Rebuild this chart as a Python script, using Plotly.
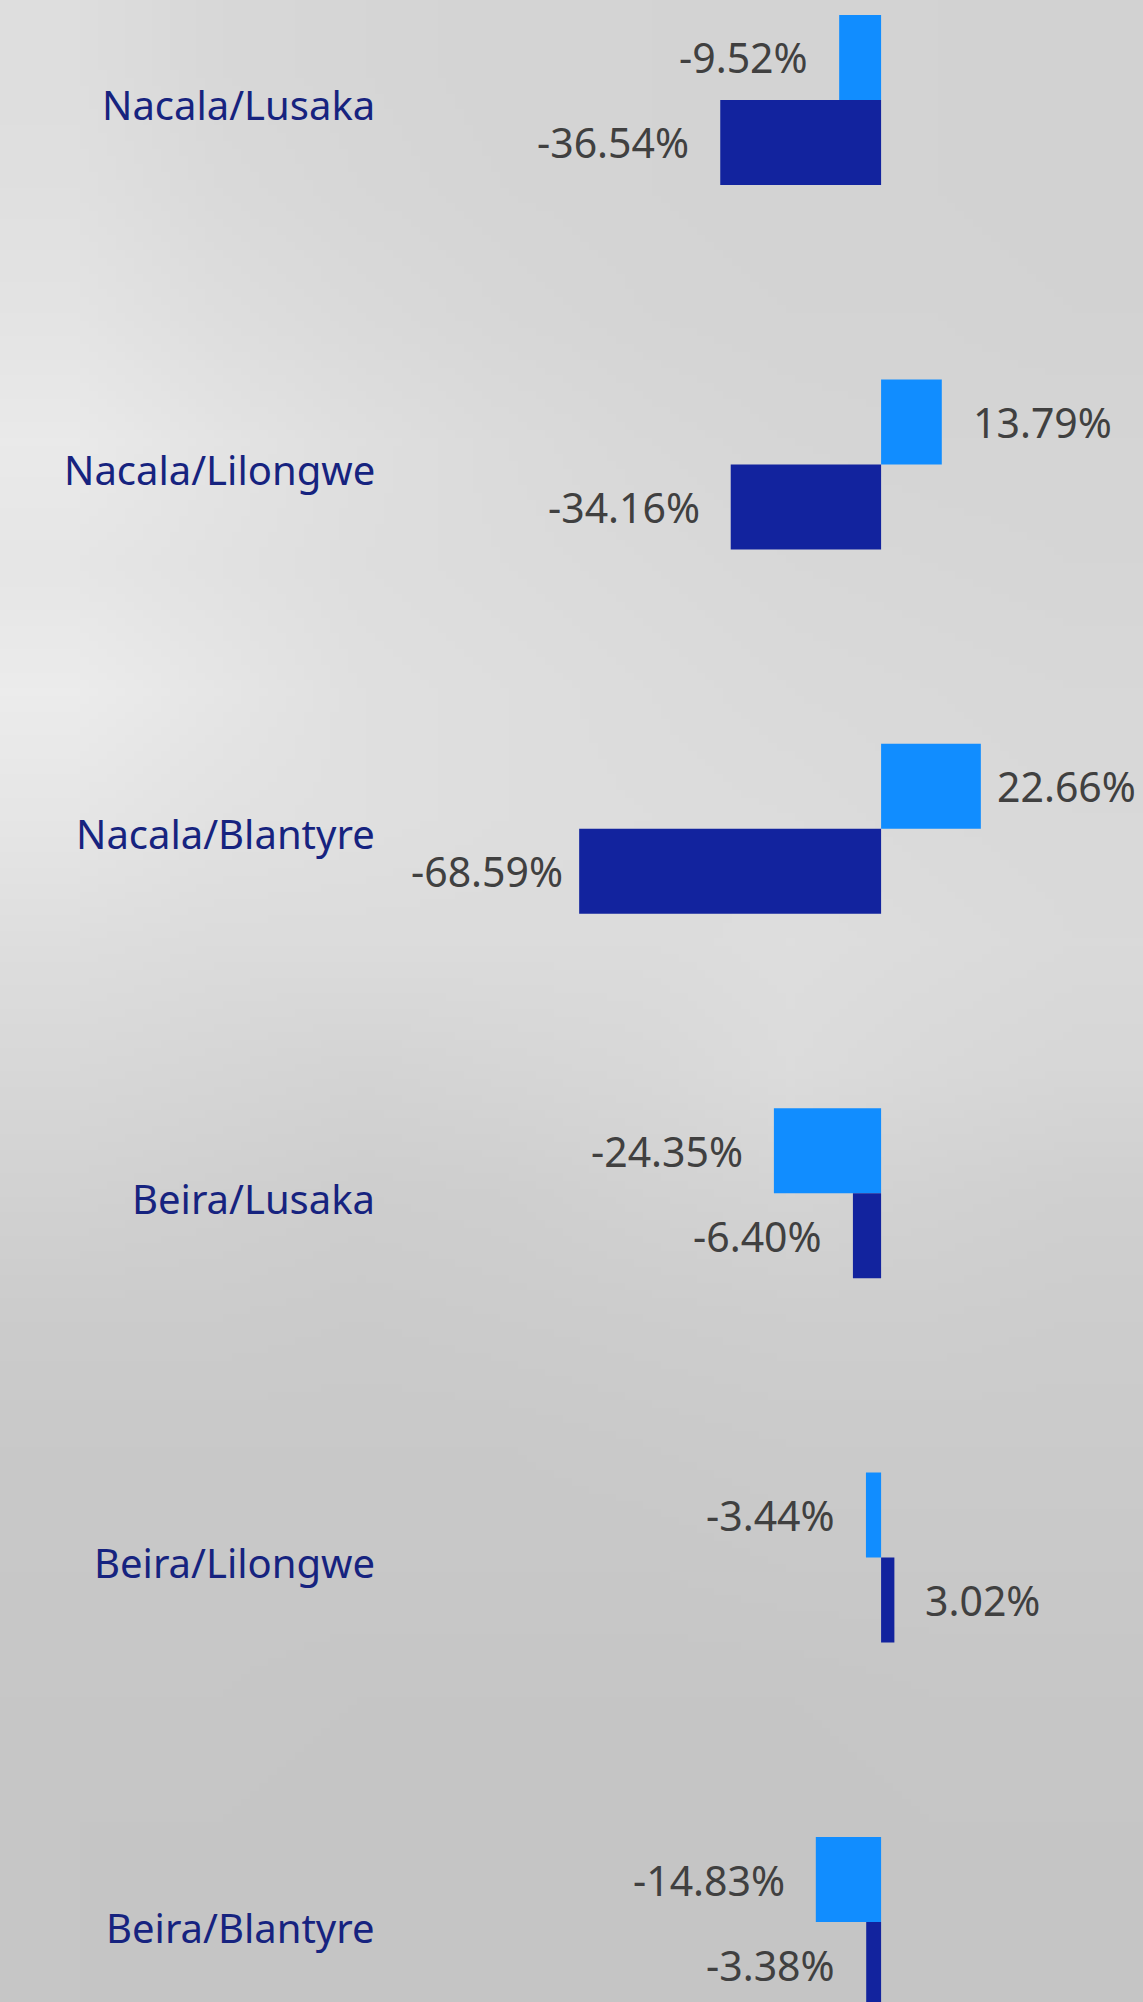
import base64, struct, zlib
import plotly.graph_objects as go

# ---------------- data ----------------
categories = ["Nacala/Lusaka", "Nacala/Lilongwe", "Nacala/Blantyre",
              "Beira/Lusaka", "Beira/Lilongwe", "Beira/Blantyre"]
series1_name = "Series 1"
series2_name = "Series 2"
series1 = [-9.52, 13.79, 22.66, -24.35, -3.44, -14.83]
series2 = [-36.54, -34.16, -68.59, -6.40, 3.02, -3.38]

# ---------------- style ----------------
W, H = 1143, 2002
ML = 385
LIGHT = "#118DFF"
DARK = "#12239E"
CAT_COLOR = "#16237F"
VAL_COLOR = "#404040"
FONT = "Segoe UI, Noto Sans, Open Sans, sans-serif"
BARGAP = 0.5335
X_RANGE = [-112.7, 59.5]
Y_RANGE = [5.2195, -0.2744]

# background photo approximation (gray levels, rows top->bottom)
bg_rows = [
    [0xde, 0xd8, 0xd6, 0xd4, 0xd4, 0xd3, 0xd3, 0xd2],
    [0xe0, 0xda, 0xd7, 0xd5, 0xd4, 0xd3, 0xd3, 0xd2],
    [0xe4, 0xde, 0xda, 0xd7, 0xd5, 0xd4, 0xd4, 0xd3],
    [0xea, 0xe4, 0xdf, 0xdb, 0xd8, 0xd6, 0xd5, 0xd5],
    [0xe6, 0xe2, 0xde, 0xdc, 0xda, 0xd8, 0xd7, 0xd6],
    [0xec, 0xe6, 0xe0, 0xde, 0xdc, 0xda, 0xd9, 0xd8],
    [0xe6, 0xe2, 0xe0, 0xde, 0xdd, 0xdc, 0xda, 0xd9],
    [0xde, 0xdc, 0xdc, 0xdc, 0xdc, 0xde, 0xdc, 0xda],
    [0xd8, 0xd6, 0xd4, 0xd6, 0xd8, 0xdc, 0xd9, 0xd7],
    [0xd2, 0xd0, 0xce, 0xcf, 0xd2, 0xd4, 0xd2, 0xd0],
    [0xcc, 0xcc, 0xcb, 0xcc, 0xcd, 0xce, 0xce, 0xcd],
    [0xc9, 0xc9, 0xc9, 0xc9, 0xca, 0xcb, 0xcb, 0xcb],
    [0xc8, 0xc8, 0xc8, 0xc8, 0xc8, 0xc9, 0xc9, 0xc9],
    [0xc7, 0xc7, 0xc6, 0xc6, 0xc6, 0xc6, 0xc7, 0xc7],
    [0xc6, 0xc6, 0xc5, 0xc5, 0xc5, 0xc5, 0xc6, 0xc6],
    [0xc6, 0xc5, 0xc5, 0xc5, 0xc5, 0xc5, 0xc5, 0xc5],
]


def png_gray(rows):
    h = len(rows)
    w = len(rows[0])
    raw = b"".join(b"\x00" + bytes(r) for r in rows)

    def chunk(t, d):
        return struct.pack(">I", len(d)) + t + d + struct.pack(">I", zlib.crc32(t + d) & 0xffffffff)

    return (b"\x89PNG\r\n\x1a\n"
            + chunk(b"IHDR", struct.pack(">IIBBBBB", w, h, 8, 0, 0, 0, 0))
            + chunk(b"IDAT", zlib.compress(raw))
            + chunk(b"IEND", b""))


bg_uri = "data:image/png;base64," + base64.b64encode(png_gray(bg_rows)).decode()

fig = go.Figure()
fig.add_trace(go.Bar(y=categories, x=series1, orientation="h", name=series1_name,
                     marker=dict(color=LIGHT, line=dict(width=0)), hoverinfo="x+y"))
fig.add_trace(go.Bar(y=categories, x=series2, orientation="h", name=series2_name,
                     marker=dict(color=DARK, line=dict(width=0)), hoverinfo="x+y"))

# value labels placed just outside the bar ends (tighter near the plot edges)
half = (1 - BARGAP) / 4.0
annotations = []
for series, off in ((series1, -half), (series2, half)):
    for i, v in enumerate(series):
        tight = v > 20 or v < -50
        gap = 14 if tight else 29
        annotations.append(dict(
            x=v, y=i + off, xref="x", yref="y",
            text=f"{v:.2f}%", showarrow=False,
            xanchor="right" if v < 0 else "left", yanchor="middle",
            xshift=-gap if v < 0 else gap,
            font=dict(family=FONT, size=41, color=VAL_COLOR),
        ))

# category labels, right-aligned left of the plot area
for i, c in enumerate(categories):
    annotations.append(dict(
        x=0, y=i, xref="paper", yref="y", text=c, showarrow=False,
        xanchor="right", yanchor="middle", xshift=-8, yshift=-5,
        font=dict(family=FONT, size=40, color=CAT_COLOR),
    ))

plot_w = W - ML
fig.update_layout(
    width=W, height=H,
    margin=dict(l=ML, r=0, t=0, b=0, pad=0),
    barmode="group", bargap=BARGAP, bargroupgap=0,
    showlegend=False,
    paper_bgcolor="#d4d4d4",
    plot_bgcolor="rgba(0,0,0,0)",
    font=dict(family=FONT),
    annotations=annotations,
    images=[dict(source=bg_uri, xref="paper", yref="paper",
                 x=-ML / plot_w, y=1, sizex=W / plot_w, sizey=1,
                 xanchor="left", yanchor="top", sizing="stretch", layer="below")],
    xaxis=dict(range=X_RANGE, visible=False, showgrid=False, zeroline=False, fixedrange=True),
    yaxis=dict(type="category", categoryorder="array", categoryarray=categories,
               range=Y_RANGE, showgrid=False, zeroline=False, showline=False,
               ticks="", showticklabels=False, automargin=False, fixedrange=True),
)

fig.write_html("out.html", config={"displayModeBar": False},
               post_script="document.body.style.margin='0';document.body.style.padding='0';")
